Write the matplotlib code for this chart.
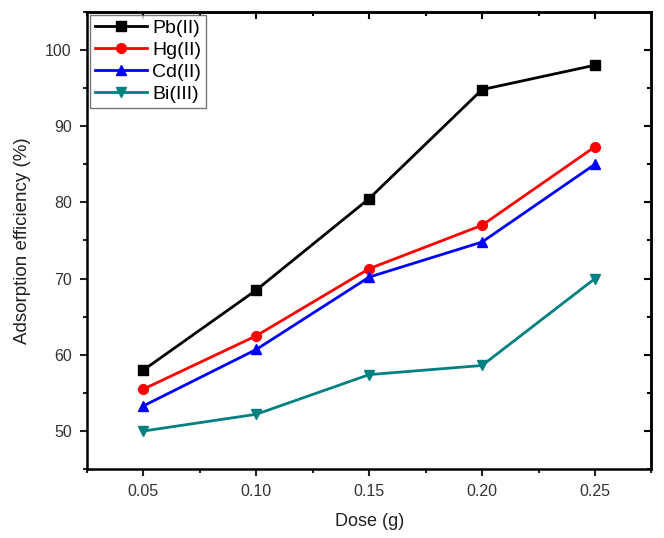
import matplotlib
matplotlib.use("Agg")
import matplotlib.pyplot as plt
from matplotlib.ticker import MultipleLocator, FormatStrFormatter

plt.rcParams['font.family'] = ['Liberation Sans', 'DejaVu Sans']

dose = [0.05, 0.10, 0.15, 0.20, 0.25]
pb = [58.0, 68.5, 80.5, 94.8, 98.0]
hg = [55.5, 62.5, 71.3, 77.0, 87.3]
cd = [53.3, 60.7, 70.2, 74.8, 85.0]
bi = [50.0, 52.2, 57.4, 58.6, 70.0]
labels = ["Pb(II)", "Hg(II)", "Cd(II)", "Bi(III)"]
colors = ["#000000", "#ff0000", "#0000ff", "#008080"]
markers = ["s", "o", "^", "v"]

fig = plt.figure(figsize=(6.64, 5.38), dpi=100)
ax = fig.add_axes([0.131, 0.128, 0.850, 0.850])

for y, lab, c, m in zip([pb, hg, cd, bi], labels, colors, markers):
    ax.plot(dose, y, color=c, marker=m, markersize=7, linewidth=2.0, label=lab)

ax.set_xlim(0.025, 0.275)
ax.set_ylim(45, 105)
ax.xaxis.set_major_locator(MultipleLocator(0.05))
ax.xaxis.set_minor_locator(MultipleLocator(0.025))
ax.yaxis.set_major_locator(MultipleLocator(10))
ax.yaxis.set_minor_locator(MultipleLocator(5))
ax.xaxis.set_major_formatter(FormatStrFormatter('%.2f'))

ax.tick_params(which='both', direction='out', top=False, right=False, width=1.5,
               colors='#222222', labelcolor='#333333', labelsize=11.5)
ax.tick_params(which='major', length=5, pad=6)
ax.tick_params(which='minor', length=3)
axt = ax.secondary_xaxis('top')
axt.xaxis.set_major_locator(MultipleLocator(0.05))
axt.xaxis.set_minor_locator(MultipleLocator(0.025))
axt.tick_params(which='both', direction='in', labeltop=False, width=1.5)
axt.tick_params(which='major', length=5)
axt.tick_params(which='minor', length=3)
axr = ax.secondary_yaxis('right')
axr.yaxis.set_major_locator(MultipleLocator(10))
axr.yaxis.set_minor_locator(MultipleLocator(5))
axr.tick_params(which='both', direction='in', labelright=False, width=1.5)
axr.tick_params(which='major', length=5)
axr.tick_params(which='minor', length=3)
for a in (axt, axr):
    for s in a.spines.values():
        s.set_linewidth(1.8)

for s in ax.spines.values():
    s.set_linewidth(1.8)

ax.set_xlabel("Dose (g)", fontsize=13, color='#222222', labelpad=10)
ax.set_ylabel("Adsorption efficiency (%)", fontsize=13.5, color='#222222', labelpad=10)

leg = ax.legend(loc='upper left', fontsize=14, frameon=True, fancybox=False,
                borderaxespad=0.15, handlelength=2.7, handletextpad=0.25,
                labelspacing=0.22, borderpad=0.25)
leg.get_frame().set_edgecolor('#555555')
leg.get_frame().set_linewidth(1.0)

fig.savefig("out.png", dpi=100)
